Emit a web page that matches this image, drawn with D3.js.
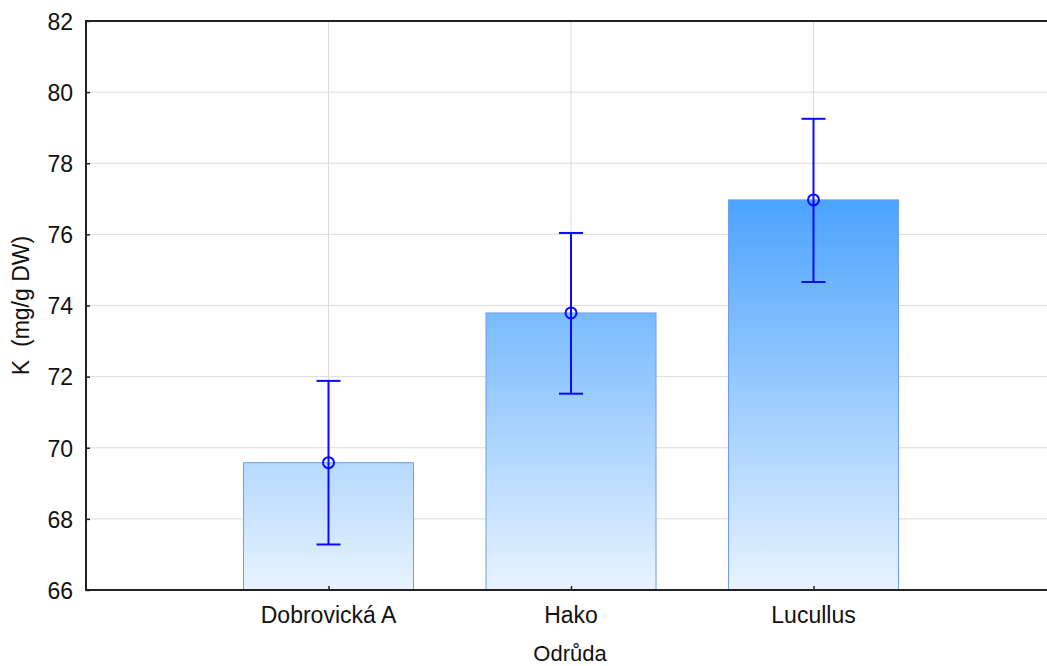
<!DOCTYPE html>
<html>
<head>
<meta charset="utf-8">
<script src="https://cdn.jsdelivr.net/npm/d3@7"></script>
<style>
  html, body { margin: 0; padding: 0; background: #fff; }
  svg { display: block; }
  text { font-family: "Liberation Sans", Arial, Helvetica, sans-serif; fill: #111; }
</style>
</head>
<body>
<svg id="chart" width="1047" height="666"></svg>
<script>
// Potassium content by variety: mean with error interval
const categories = ["Dobrovická A", "Hako", "Lucullus"];
const means = [69.58, 73.79, 76.97];
const upper = [71.88, 76.04, 79.25];
const lower = [67.28, 71.52, 74.66];
const yTicks = [66, 68, 70, 72, 74, 76, 78, 80, 82];
const yTitle = "K  (mg/g DW)";
const xTitle = "Odrůda";

(function () {
  const svg = d3.select("#chart");
  const W = 1047, H = 666;
  const plotLeft = 86, plotTop = 21, plotBottom = 590;
  const fontSize = "23px";

  const y = d3.scaleLinear().domain([66, 82]).range([plotBottom, plotTop]);
  // category slots: positions 1..3 on a 0..4 axis that runs past the right edge
  const x = d3.scaleLinear().domain([0, 4]).range([plotLeft, plotLeft + 970]);
  const barW = 170;

  const defs = svg.append("defs");
  const grad = defs.append("linearGradient")
    .attr("id", "barFill")
    .attr("gradientUnits", "userSpaceOnUse")
    .attr("x1", 0).attr("x2", 0)
    .attr("y1", y(82)).attr("y2", y(66));
  grad.append("stop").attr("offset", 0).attr("stop-color", "#047ffd");
  grad.append("stop").attr("offset", 1).attr("stop-color", "#e8f3fe");

  defs.append("clipPath").attr("id", "plotClip")
    .append("rect").attr("x", plotLeft).attr("y", plotTop - 2)
    .attr("width", W - plotLeft).attr("height", plotBottom - plotTop + 4);

  // grid
  const grid = svg.append("g");
  grid.selectAll("line.h").data(yTicks.slice(1, -1)).join("line")
    .attr("class", "h")
    .attr("x1", plotLeft).attr("x2", W)
    .attr("y1", d => y(d)).attr("y2", d => y(d))
    .attr("stroke", "#dcdcdc").attr("stroke-width", 1);
  grid.selectAll("line.v").data(categories).join("line")
    .attr("class", "v")
    .attr("x1", (d, i) => x(i + 1)).attr("x2", (d, i) => x(i + 1))
    .attr("y1", plotTop).attr("y2", plotBottom)
    .attr("stroke", "#dcdcdc").attr("stroke-width", 1);

  // bars
  svg.append("g").attr("clip-path", "url(#plotClip)")
    .selectAll("rect").data(means).join("rect")
    .attr("x", (d, i) => x(i + 1) - barW / 2)
    .attr("width", barW)
    .attr("y", d => y(d))
    .attr("height", d => y(66) - y(d))
    .attr("fill", "url(#barFill)")
    .attr("stroke", "#6f9ef0").attr("stroke-width", 1);

  // error bars
  const eb = svg.append("g").attr("stroke", "#0a0aff").attr("stroke-width", 2).attr("fill", "none");
  categories.forEach((c, i) => {
    const cx = x(i + 1);
    eb.append("line").attr("x1", cx).attr("x2", cx).attr("y1", y(upper[i])).attr("y2", y(lower[i]));
    eb.append("line").attr("x1", cx - 12).attr("x2", cx + 12).attr("y1", y(upper[i])).attr("y2", y(upper[i]));
    eb.append("line").attr("x1", cx - 12).attr("x2", cx + 12).attr("y1", y(lower[i])).attr("y2", y(lower[i]));
    eb.append("circle").attr("cx", cx).attr("cy", y(means[i])).attr("r", 5.5);
  });

  // y axis with inward ticks
  const yAxis = svg.append("g").attr("transform", `translate(${plotLeft},0)`)
    .call(d3.axisRight(y).tickValues(yTicks).tickSize(4).tickFormat(d3.format("d")));
  yAxis.select(".domain").remove();
  yAxis.selectAll(".tick line").attr("stroke", "#222").attr("stroke-width", 1.5);
  yAxis.selectAll(".tick text")
    .attr("x", -13)
    .attr("dy", "0.36em")
    .attr("text-anchor", "end")
    .style("font-size", fontSize);

  // x axis with inward ticks
  const xAxis = svg.append("g").attr("transform", `translate(0,${plotBottom})`)
    .call(d3.axisTop(x).tickValues([1, 2, 3]).tickSize(4).tickFormat(""));
  xAxis.select(".domain").remove();
  xAxis.selectAll(".tick line").attr("stroke", "#222").attr("stroke-width", 1.5);

  // category labels
  svg.append("g").selectAll("text").data(categories).join("text")
    .attr("x", (d, i) => x(i + 1))
    .attr("y", plotBottom + 33)
    .attr("text-anchor", "middle")
    .style("font-size", fontSize)
    .text(d => d);

  // frame: left, bottom, top
  const frame = svg.append("g").attr("stroke", "#222").attr("stroke-width", 2).attr("fill", "none");
  frame.append("line").attr("x1", plotLeft).attr("x2", plotLeft).attr("y1", plotTop - 1).attr("y2", plotBottom + 1);
  frame.append("line").attr("x1", plotLeft - 1).attr("x2", W).attr("y1", plotBottom).attr("y2", plotBottom);
  frame.append("line").attr("x1", plotLeft - 1).attr("x2", W).attr("y1", plotTop).attr("y2", plotTop);

  // axis titles
  svg.append("text")
    .attr("x", 570)
    .attr("y", H - 5)
    .attr("text-anchor", "middle")
    .style("font-size", "22px")
    .text(xTitle);

  svg.append("text")
    .attr("transform", `translate(29,${(plotTop + plotBottom) / 2}) rotate(-90)`)
    .attr("text-anchor", "middle")
    .style("font-size", fontSize)
    .style("white-space", "pre")
    .attr("xml:space", "preserve")
    .text(yTitle);
})();
</script>
</body>
</html>
